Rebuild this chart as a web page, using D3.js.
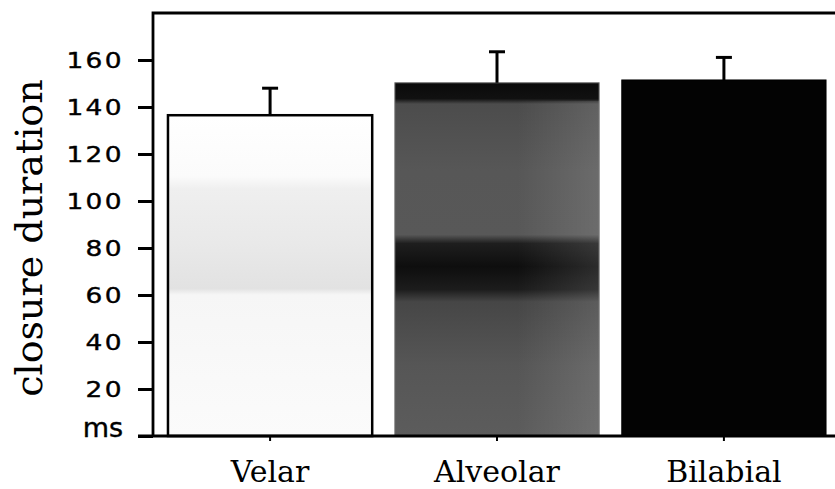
<!DOCTYPE html>
<html><head><meta charset="utf-8">
<script src="https://cdn.jsdelivr.net/npm/d3@7"></script>
<style>html,body{margin:0;padding:0;background:#fff}</style>
</head><body><svg id="chart" width="835" height="489"></svg>
<script>
// Mean closure duration (ms) by place of articulation, with error bars
const categories = ["Velar", "Alveolar", "Bilabial"];
const means = [136.5, 150.3, 151.5];
const errors = [11.5, 13.2, 9.6];
const tickValues = [0, 20, 40, 60, 80, 100, 120, 140, 160];
const tickLabels = ["ms", "20", "40", "60", "80", "100", "120", "140", "160"];
const yTitle = "closure duration";

const data = categories.map((c, i) => ({ cat: c, mean: means[i], err: errors[i] }));

const svg = d3.select("#chart");
const y = d3.scaleLinear().domain([0, 180]).range([436, 13]);
const x = d3.scaleBand().domain(categories).range([153, 841])
  .paddingInner(0.1).paddingOuter(0.066);

// bar shading
const defs = svg.append("defs");
const gVel = defs.append("linearGradient").attr("id", "fillVelar")
  .attr("x1", 0).attr("y1", 0).attr("x2", 0).attr("y2", 1);
[[0, "#ffffff"], [0.19, "#fbfbfb"], [0.23, "#efefef"], [0.40, "#e9e9e9"],
 [0.54, "#e2e2e2"], [0.56, "#f6f6f6"], [1, "#fbfbfb"]]
  .forEach(([o, c]) => gVel.append("stop").attr("offset", o).attr("stop-color", c));

const gAlv = defs.append("linearGradient").attr("id", "fillAlveolar")
  .attr("x1", 0).attr("y1", 0).attr("x2", 0).attr("y2", 1);
[[0, "#0a0a0a"], [0.045, "#111111"], [0.06, "#4c4c4c"], [0.25, "#575757"],
 [0.43, "#585858"], [0.455, "#1e1e1e"], [0.52, "#0e0e0e"], [0.585, "#1c1c1c"],
 [0.62, "#464646"], [0.8, "#565656"], [1, "#5c5c5c"]]
  .forEach(([o, c]) => gAlv.append("stop").attr("offset", o).attr("stop-color", c));

const gSheen = defs.append("linearGradient").attr("id", "sheen")
  .attr("x1", 0).attr("y1", 0).attr("x2", 1).attr("y2", 0);
[[0, 0], [0.6, 0], [1, 0.12]]
  .forEach(([o, a]) => gSheen.append("stop").attr("offset", o)
    .attr("stop-color", "#fff").attr("stop-opacity", a));

const fills = { Velar: "url(#fillVelar)", Alveolar: "url(#fillAlveolar)", Bilabial: "#030303" };
const strokes = { Velar: "#000", Alveolar: "#6a6a6a", Bilabial: "#000" };
const strokeW = { Velar: 2.5, Alveolar: 1, Bilabial: 1 };

// bars
svg.append("g").selectAll("rect.bar").data(data).join("rect")
  .attr("class", "bar")
  .attr("x", d => x(d.cat))
  .attr("y", d => y(d.mean))
  .attr("width", x.bandwidth())
  .attr("height", d => y(0) - y(d.mean))
  .attr("fill", d => fills[d.cat])
  .attr("stroke", d => strokes[d.cat])
  .attr("stroke-width", d => strokeW[d.cat]);

// lighter sheen on the right side of the alveolar bar
svg.append("g").selectAll("rect").data(data.filter(d => d.cat === "Alveolar")).join("rect")
  .attr("x", d => x(d.cat))
  .attr("y", d => y(d.mean) + 18)
  .attr("width", x.bandwidth())
  .attr("height", d => y(0) - y(d.mean) - 18)
  .attr("fill", "url(#sheen)");

// error bars
const eb = svg.append("g").attr("stroke", "#000").attr("stroke-width", 3);
eb.selectAll("line.stem").data(data).join("line")
  .attr("x1", d => x(d.cat) + x.bandwidth() / 2)
  .attr("x2", d => x(d.cat) + x.bandwidth() / 2)
  .attr("y1", d => y(d.mean))
  .attr("y2", d => y(d.mean + d.err));
eb.selectAll("line.cap").data(data).join("line")
  .attr("x1", d => x(d.cat) + x.bandwidth() / 2 - 8)
  .attr("x2", d => x(d.cat) + x.bandwidth() / 2 + 8)
  .attr("y1", d => y(d.mean + d.err))
  .attr("y2", d => y(d.mean + d.err));

// frame: top and left
const [x0, x1] = x.range();
svg.append("path")
  .attr("d", `M${x0},${y(0)}V${y.range()[1]}H${x1}`)
  .attr("fill", "none").attr("stroke", "#000").attr("stroke-width", 2.8);

// y axis
const tickLen = 15;
const yAxis = svg.append("g").attr("transform", `translate(${x0},0)`)
  .call(d3.axisLeft(y).tickValues(tickValues).tickSize(tickLen)
    .tickFormat((d, i) => tickLabels[i]));
yAxis.select(".domain").remove();
yAxis.selectAll(".tick line").attr("stroke", "#000").attr("stroke-width", 3);
yAxis.selectAll(".tick text")
  .attr("x", 0)
  .attr("fill", "#000")
  .attr("stroke", "#000")
  .attr("stroke-width", 0.4)
  .attr("text-anchor", "end")
  .style("font-family", "'DejaVu Sans', sans-serif")
  .style("font-size", "22px")
  .style("letter-spacing", "2px")
  .attr("transform", "translate(-29,0) scale(1.2,1)");
yAxis.selectAll(".tick text").filter(d => d === 0)
  .attr("dy", "0")
  .style("font-size", "27px")
  .style("letter-spacing", "0px")
  .attr("transform", "translate(-30,0)");

// x axis
svg.append("line")
  .attr("x1", x0 - tickLen).attr("x2", x1)
  .attr("y1", y(0)).attr("y2", y(0))
  .attr("stroke", "#000").attr("stroke-width", 3);
const xAxis = svg.append("g").attr("transform", `translate(0,${y(0)})`)
  .call(d3.axisBottom(x).tickSize(5).tickPadding(20));
xAxis.select(".domain").remove();
xAxis.selectAll(".tick line").attr("stroke", "#000").attr("stroke-width", 2);
xAxis.selectAll(".tick text")
  .attr("fill", "#000")
  .style("font-family", "'DejaVu Serif', serif")
  .style("font-size", "30px");

// y title
svg.append("text")
  .attr("transform", "translate(42,238) rotate(-90)")
  .attr("text-anchor", "middle")
  .style("font-family", "'DejaVu Serif', serif")
  .style("font-size", "38px")
  .attr("fill", "#000")
  .text(yTitle);
</script>
</body></html>
